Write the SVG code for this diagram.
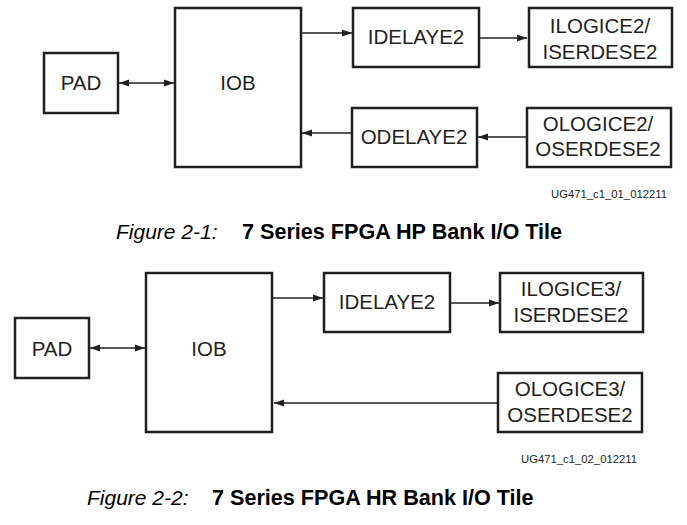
<svg xmlns="http://www.w3.org/2000/svg" width="687" height="525" viewBox="0 0 687 525">
<style>
.box{fill:#fff;stroke:#231f20;stroke-width:2.5}
.lbl{font-family:"Liberation Sans",Arial,sans-serif;font-size:20.5px;fill:#231f20;text-anchor:middle}
.con{stroke:#231f20;stroke-width:1.3;fill:none}
.ug{font-family:"Liberation Sans",Arial,sans-serif;font-size:11.3px;fill:#231f20}
.capi{font-family:"Liberation Sans",Arial,sans-serif;font-size:21px;font-style:italic;fill:#000}
.capb{font-family:"Liberation Sans",Arial,sans-serif;font-size:21.6px;font-weight:bold;fill:#000}
</style>
<defs>
<marker id="ah" markerWidth="11" markerHeight="8" refX="10" refY="4" orient="auto-start-reverse" markerUnits="userSpaceOnUse">
<path d="M0,0.5 L10,4 L0,7.5 Z" fill="#231f20"/>
</marker>
</defs>
<rect width="687" height="525" fill="#fff"/>
<g id="connectors">
<line class="con" x1="119" y1="83" x2="174" y2="83" marker-start="url(#ah)" marker-end="url(#ah)"/>
<line class="con" x1="302" y1="33" x2="352" y2="33" marker-end="url(#ah)"/>
<line class="con" x1="480" y1="38" x2="527" y2="38" marker-end="url(#ah)"/>
<line class="con" x1="351" y1="133" x2="302" y2="133" marker-end="url(#ah)"/>
<line class="con" x1="526" y1="137" x2="478" y2="137" marker-end="url(#ah)"/>
<line class="con" x1="90" y1="348" x2="145" y2="348" marker-start="url(#ah)" marker-end="url(#ah)"/>
<line class="con" x1="273" y1="298" x2="323" y2="298" marker-end="url(#ah)"/>
<line class="con" x1="451" y1="303" x2="499" y2="303" marker-end="url(#ah)"/>
<line class="con" x1="497" y1="403" x2="274" y2="403" marker-end="url(#ah)"/>
</g>
<g id="pad1"><rect class="box" x="44" y="53" width="74" height="60"/><text class="lbl" x="81" y="90">PAD</text></g>
<g id="iob1"><rect class="box" x="175" y="8" width="126" height="159"/><text class="lbl" x="238" y="90">IOB</text></g>
<g id="idelay1"><rect class="box" x="353" y="8" width="126" height="59"/><text class="lbl" x="416" y="44">IDELAYE2</text></g>
<g id="ilogic1"><rect class="box" x="529" y="8" width="143" height="59"/><text class="lbl" x="600" y="33">ILOGICE2/</text><text class="lbl" x="600" y="59">ISERDESE2</text></g>
<g id="odelay1"><rect class="box" x="352" y="108" width="125" height="59"/><text class="lbl" x="414" y="144">ODELAYE2</text></g>
<g id="ologic1"><rect class="box" x="527" y="108" width="144" height="59"/><text class="lbl" x="598" y="131">OLOGICE2/</text><text class="lbl" x="598" y="156">OSERDESE2</text></g>
<text class="ug" x="551" y="198">UG471_c1_01_012211</text>
<text class="capi" x="116" y="239">Figure 2-1:</text>
<text class="capb" x="242" y="239">7 Series FPGA HP Bank I/O Tile</text>
<g id="pad2"><rect class="box" x="15" y="318" width="74" height="60"/><text class="lbl" x="52" y="356">PAD</text></g>
<g id="iob2"><rect class="box" x="146" y="273" width="126" height="159"/><text class="lbl" x="209" y="356">IOB</text></g>
<g id="idelay2"><rect class="box" x="324" y="273" width="126" height="59"/><text class="lbl" x="387" y="309">IDELAYE2</text></g>
<g id="ilogic2"><rect class="box" x="500" y="273" width="143" height="59"/><text class="lbl" x="571" y="296">ILOGICE3/</text><text class="lbl" x="571" y="322">ISERDESE2</text></g>
<g id="ologic2"><rect class="box" x="498" y="373" width="144" height="59"/><text class="lbl" x="570" y="396">OLOGICE3/</text><text class="lbl" x="570" y="422">OSERDESE2</text></g>
<text class="ug" x="521" y="463">UG471_c1_02_012211</text>
<text class="capi" x="87" y="505">Figure 2-2:</text>
<text class="capb" x="212" y="505">7 Series FPGA HR Bank I/O Tile</text>
</svg>
